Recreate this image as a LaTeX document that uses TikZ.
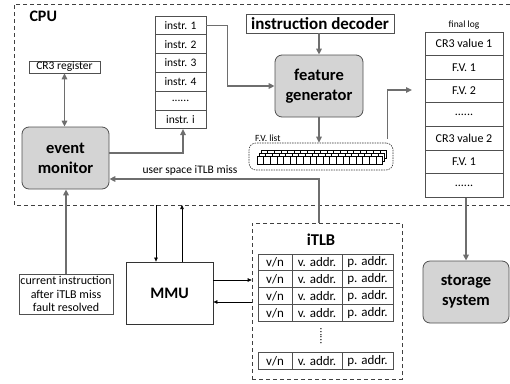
\documentclass[tikz,border=0pt]{standalone}
\usepackage{fontspec}
\setmainfont{Carlito}
\usetikzlibrary{arrows.meta}

\definecolor{linegray}{HTML}{6E6E6E}
\definecolor{boxfill}{HTML}{D4D4D4}
\definecolor{edgegray}{HTML}{505050}

\newcommand{\gapdots}{......}

\tikzset{
  cell/.style={draw=edgegray, line width=0.7pt, fill=white, inner sep=0pt,
    font=\fontsize{11.5}{13}\selectfont},
  tlbcell/.style={cell, minimum height=16.8pt, font=\fontsize{13}{14}\selectfont},
  unit/.style={draw=edgegray, line width=0.8pt, fill=boxfill, rounded corners=7pt,
    inner sep=0pt, align=center, font=\fontsize{16.5}{20}\selectfont\bfseries},
  grayarrow/.style={draw=linegray, line width=1.5pt, -{Triangle[length=6pt,width=5.5pt]}},
  thinarrow/.style={draw=black, line width=0.6pt, -{Triangle[length=4pt,width=3.5pt]}},
  frame/.style={draw=black!75, line width=0.6pt, dash pattern=on 4pt off 3pt},
}

\begin{document}
\begin{tikzpicture}[x=1pt, y=-1pt]
\useasboundingbox (0,0) rectangle (510,383);

% CPU border
\draw[frame] (510,4) -- (14,4) -- (14,205) -- (510,205);
\node[anchor=west, font=\fontsize{16}{18}\selectfont\bfseries] (cpu) at (26,16) {CPU};

% CPU parts
\node[cell, minimum width=71pt, minimum height=12pt] (cr3) at (64.5,67) {CR3 register};
\node[unit, minimum width=87pt, minimum height=62pt] (monitor) at (65.5,158) {event\\monitor};

\foreach \txt [count=\i] in {instr. 1, instr. 2, instr. 3, instr. 4, \gapdots, instr. i}
  \node[cell, minimum width=51pt, minimum height=18.8pt] (instr\i) at (180.5,6.5+18.8*\i) {\txt};

\node[draw=edgegray, line width=0.7pt, inner sep=0pt, minimum width=148pt, minimum height=19pt,
  font=\fontsize{17}{19}\selectfont\bfseries] (decoder) at (320,23.5) {instruction decoder};
\node[unit, minimum width=88pt, minimum height=62pt] (featgen) at (319,86) {feature\\generator};

% feature vector list
\node[draw=black!80, line width=0.6pt, dash pattern=on 1.5pt off 1pt, rounded corners=7pt,
  minimum width=144pt, minimum height=27pt] (fvlist) at (321,156.5) {};
\node[anchor=base west, inner sep=0pt, font=\fontsize{9.5}{10}\selectfont] (fvlabel) at (255,141) {F.V. list};
\foreach \l in {2,1,0}
  \foreach \k in {0,...,18}
    \draw[fill=white, line width=0.4pt] ({257+6.6*\k+2*\l},{156-3*\l}) rectangle ++(6.6,8);

% final log
\node[font=\fontsize{9.5}{11}\selectfont] (loglabel) at (464,25) {final log};
\foreach \txt [count=\i] in {CR3 value 1, F.V. 1, F.V. 2, \gapdots, CR3 value 2, F.V. 1, \gapdots}
  \node[cell, minimum width=78pt, minimum height=23.6pt, font=\fontsize{12}{13}\selectfont]
    (log\i) at (464,20.2+23.6*\i) {\txt};

\node[unit, minimum width=86pt, minimum height=62pt] (storage) at (466,292) {storage\\system};

% iTLB
\node[frame, minimum width=150pt, minimum height=156pt] (itlb) at (327,301) {};
\node[font=\fontsize{16.5}{18}\selectfont\bfseries] (itlblabel) at (321,240) {iTLB};
\foreach \y [count=\r] in {262.4,279.2,296,312.8,361} {
  \node[tlbcell, minimum width=34pt] (valid\r) at (275,\y) {v/n};
  \node[tlbcell, minimum width=50pt] (vaddr\r) at (317,\y) {v. addr.};
  \node[tlbcell, minimum width=51pt] (paddr\r) at (367.5,\y) {p. addr.};
}
\node[rotate=90, font=\fontsize{11}{12}\selectfont] (tlbdots) at (321,336) {\gapdots};

\node[draw=black!80, line width=0.8pt, inner sep=0pt, minimum width=87pt, minimum height=62pt,
  font=\fontsize{16}{18}\selectfont\bfseries] (mmu) at (169.5,293) {MMU};
\node[cell, align=center, minimum width=94pt, minimum height=40pt, font=\fontsize{12}{13.5}\selectfont]
  (curinstr) at (66,294) {current instruction\\after iTLB miss\\fault resolved};

% connectors
\coordinate (fetchpt) at (183,153);
\coordinate (misspt) at (319,179);
\coordinate (logtip) at (412,90);
\coordinate (cpudown) at (156,205);
\coordinate (cpuup) at (182,205);
\coordinate (tlbreq) at (232,280);
\coordinate (tlbresp) at (232,302);

\draw[grayarrow, {Triangle[length=6pt,width=5.5pt]}-{Triangle[length=6pt,width=5.5pt]}]
  (cr3.south) -- (cr3.south |- monitor.north);
\draw[grayarrow] (curinstr.north) -- (curinstr.north |- monitor.south);
\draw[grayarrow] (fetchpt -| monitor.east) -- (fetchpt) -- (fetchpt |- instr6.south);
\draw[grayarrow] (instr1.east) -- ++(21,0) |- (featgen.west);
\draw[grayarrow] (featgen.north |- decoder.south) -- (featgen.north);
\draw[grayarrow] (featgen.south) -- (featgen.south |- fvlist.north);
\draw[grayarrow] ([xshift=-6pt, yshift=4pt]fvlist.north east) |- (logtip);
\draw[grayarrow] (storage.north |- log7.south) -- (storage.north);
\draw[grayarrow] (misspt |- itlb.north) -- (misspt) -- (misspt -| monitor.east);
\node[font=\fontsize{11.5}{13}\selectfont] (misslabel) at (190,170) {user space iTLB miss};

\draw[thinarrow] (cpudown) -- (cpudown |- mmu.north);
\draw[thinarrow] (cpuup |- mmu.north) -- (cpuup);
\draw[thinarrow] (tlbreq -| mmu.east) -- (tlbreq -| itlb.west);
\draw[thinarrow] (tlbresp -| itlb.west) -- (tlbresp -| mmu.east);
\end{tikzpicture}
\end{document}
